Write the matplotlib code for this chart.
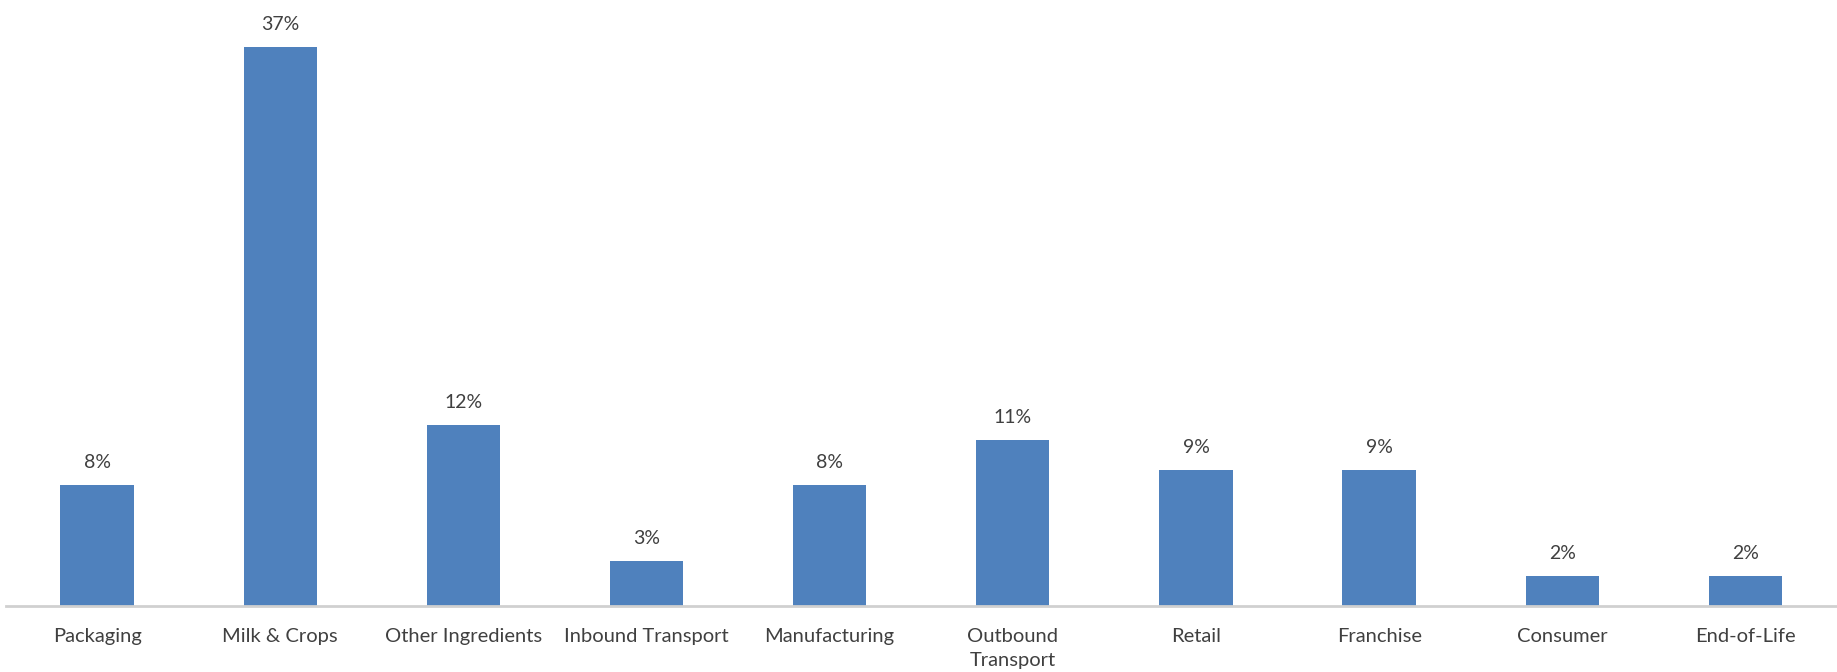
import matplotlib
matplotlib.use("Agg")
import matplotlib.pyplot as plt

categories = ["Packaging", "Milk & Crops", "Other Ingredients", "Inbound Transport",
              "Manufacturing", "Outbound\nTransport", "Retail", "Franchise",
              "Consumer", "End-of-Life"]
shares = [8, 37, 12, 3, 8, 11, 9, 9, 2, 2]

plt.rcParams["font.family"] = ["Lato", "DejaVu Sans"]

fig = plt.figure(figsize=(18.37, 6.72), dpi=100)
ax = fig.add_axes([0.003, 0.098, 0.997, 0.902])

x = range(len(categories))
bars = ax.bar(x, shares, width=0.40, color="#4F81BD")

for b, v in zip(bars, shares):
    ax.annotate(f"{v}%", (b.get_x() + b.get_width() / 2, b.get_height()),
                xytext=(0, 10), textcoords="offset points",
                ha="center", va="bottom", fontsize=14, color="#404040")

ax.set_xlim(-0.5, len(categories) - 0.5)
ax.set_ylim(0, 40.1)
ax.set_xticks(list(x))
ax.set_xticklabels(categories, fontsize=14.5, color="#404040", va="top",
                   linespacing=1.45)
ax.tick_params(axis="x", length=0, pad=16)
ax.set_yticks([])
for s in ["top", "right", "left"]:
    ax.spines[s].set_visible(False)
ax.spines["bottom"].set_color("#D0D0D0")
ax.spines["bottom"].set_linewidth(2)

fig.savefig("out.png", dpi=100)
